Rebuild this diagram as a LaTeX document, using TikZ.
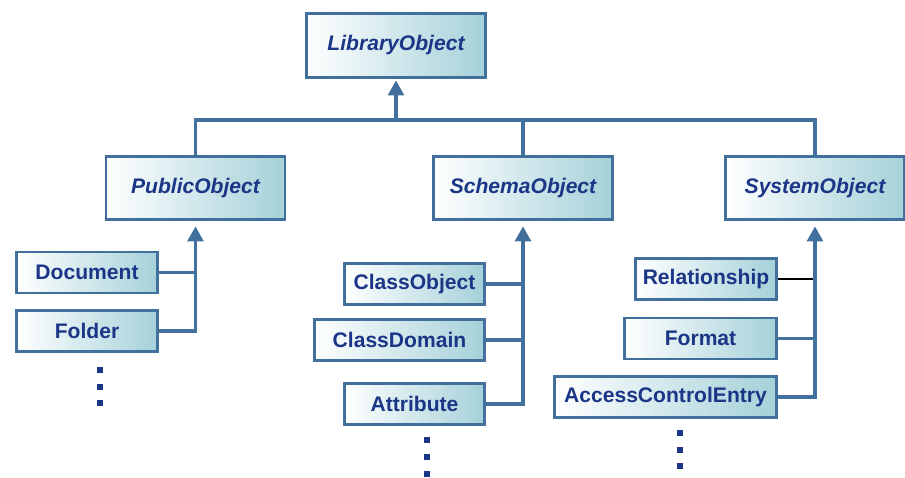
\documentclass[tikz,border=0pt]{standalone}
\usepackage{fontspec}
\setmainfont{Liberation Sans}
\usetikzlibrary{arrows.meta, calc}
\definecolor{edgeblue}{HTML}{41709D}
\definecolor{navy}{HTML}{1B3587}
\definecolor{paleteal}{HTML}{A5D1D9}

\begin{document}
\begin{tikzpicture}[
  x=0.02cm, y=-0.02cm,
  >={Triangle[length=8.5pt, width=9pt]},
  cls/.style={
    draw=edgeblue, line width=1.6pt, left color=white, right color=paleteal,
    text=navy, font=\fontsize{12}{14}\selectfont\bfseries, inner sep=2pt
  },
  absbox/.style={cls, font=\fontsize{12}{14}\selectfont\bfseries\itshape,
    minimum width=3.58cm, minimum height=1.27cm},
  leaf/.style={cls, minimum width=#1, minimum height=0.82cm},
  conn/.style={draw=edgeblue, line width=1.9pt},
  dot/.style={fill=navy},
]

\useasboundingbox (0,0) rectangle (905,477);

% =============================================
% Top level
% =============================================
\node[absbox] (library) at (396,45.5) {LibraryObject};

\node[absbox] (public) at (195.5,188) {PublicObject};
\node[absbox] (schema) at (523,188) {SchemaObject};
\node[absbox] (system) at (815,188) {SystemObject};

% Bus to the root
\coordinate (bus) at (396,120);
\draw[conn] (public.north) |- (bus) -| (system.north);
\draw[conn] (schema.north) -- (schema.north |- bus);
\draw[conn, ->, shorten >=1pt] (bus) -- (library.south);

% =============================================
% PublicObject children
% =============================================
\node[leaf=2.82cm] (document) at (87,272.5) {Document};
\node[leaf=2.82cm] (folder) at (87,331) {Folder};

\draw[conn] (document.east) -- (document.east -| public.south);
\draw[conn, ->, shorten >=3pt] (folder.east) -| (public.south);

\foreach \y in {370,387,403}
  \fill[dot] (97,\y-3) rectangle ++(6,6);

% =============================================
% SchemaObject children
% =============================================
\node[leaf=2.8cm] (classobj) at (414.5,284) {ClassObject};
\node[leaf=3.4cm] (classdom) at (399.5,340) {ClassDomain};
\node[leaf=2.8cm] (attrib) at (414.5,404) {Attribute};

\draw[conn] (classobj.east) -- (classobj.east -| schema.south);
\draw[conn] (classdom.east) -- (classdom.east -| schema.south);
\draw[conn, ->, shorten >=3pt] (attrib.east) -| (schema.south);

\foreach \y in {440,457,474}
  \fill[dot] (424,\y-3) rectangle ++(6,6);

% =============================================
% SystemObject children
% =============================================
\node[leaf=2.82cm] (relation) at (706,279) {Relationship};
\node[leaf=3.04cm] (format) at (700.5,338.5) {Format};
\node[leaf=4.44cm] (access) at (665.5,397) {AccessControlEntry};

\draw[black, line width=0.6pt] (relation.east) -- (relation.east -| system.south);
\draw[conn] (format.east) -- (format.east -| system.south);
\draw[conn, ->, shorten >=3pt] (access.east) -| (system.south);

\foreach \y in {433,450,466}
  \fill[dot] (677,\y-3) rectangle ++(6,6);

\end{tikzpicture}
\end{document}
